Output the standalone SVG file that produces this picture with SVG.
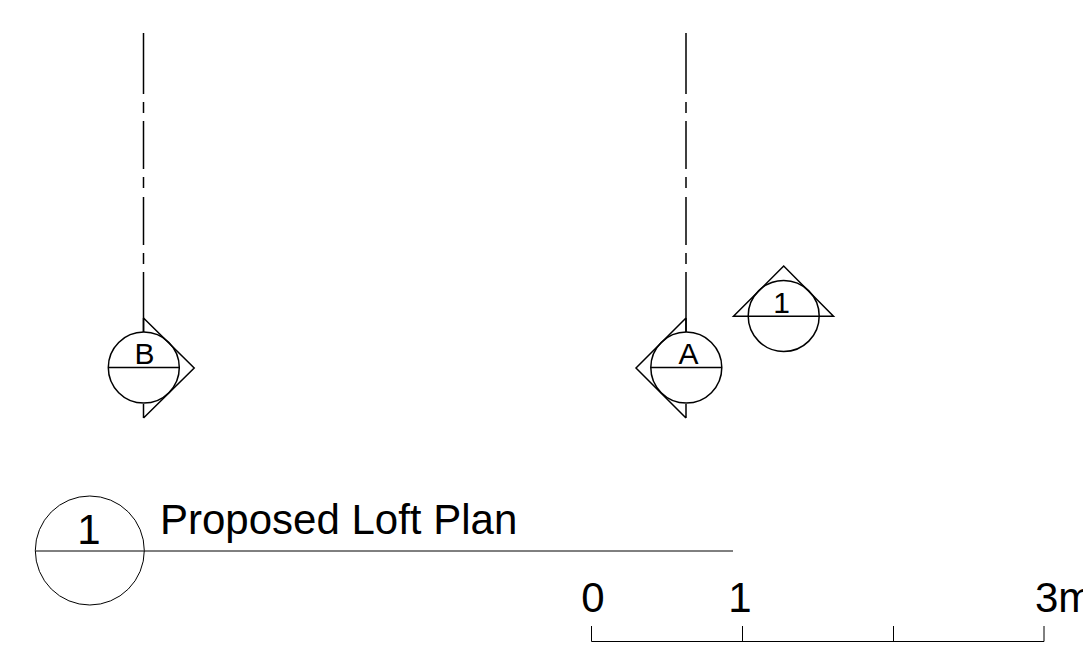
<svg xmlns="http://www.w3.org/2000/svg" width="1083" height="651" viewBox="0 0 1083 651">
<style>
.h{fill:none;stroke:#000;stroke-width:1.5}
.t{fill:none;stroke:#000;stroke-width:1}
text{font-family:"Liberation Sans",Arial,sans-serif;fill:#000;stroke:none;text-anchor:middle}
.s{font-size:30px}
.b{font-size:42px}
</style>
<rect width="1083" height="651" fill="#fff"/>
<g id="gridline-b" class="h"><path d="M143.5 33V94M143.5 102V113M143.5 121V169M143.5 177V188M143.5 197V245M143.5 253V264M143.5 272V332"/></g>
<g id="gridline-a" class="h"><path d="M686 33V94M686 102V113M686 121V169M686 177V188M686 197V245M686 253V264M686 272V332"/></g>
<g id="grid-b" class="h">
<circle cx="143.8" cy="367.6" r="35.5"/>
<path d="M108.3 367.6H179.3M143.5 318V332M143.5 404V418M143.5 318L194.2 368L143.5 418"/>
<text class="s" x="144.5" y="364">B</text>
</g>
<g id="grid-a" class="h">
<circle cx="686.3" cy="367.6" r="35.5"/>
<path d="M650.8 367.6H721.8M686 318V332M686 404V418M686 318L636 368L686 418"/>
<text class="s" x="688.5" y="364">A</text>
</g>
<g id="section-1" class="h">
<circle cx="783.7" cy="316" r="35.5"/>
<path d="M733.5 316.3H833.5L783.7 266Z"/>
<text class="s" x="781.5" y="312.5">1</text>
</g>
<g id="title" class="t">
<circle cx="89.8" cy="550.5" r="54.5"/>
<path d="M35.3 551H733"/>
<text class="b" x="89" y="543.5">1</text>
<text class="b" x="160" y="534" style="text-anchor:start">Proposed Loft Plan</text>
</g>
<g id="scale" class="t">
<path d="M591.5 626V641.5H1044V626M742.5 626V641.5M893.5 626V641.5"/>
<text class="b" x="593" y="612">0</text>
<text class="b" x="740" y="612">1</text>
<text class="b" x="1035" y="612" style="text-anchor:start">3m</text>
</g>
</svg>
